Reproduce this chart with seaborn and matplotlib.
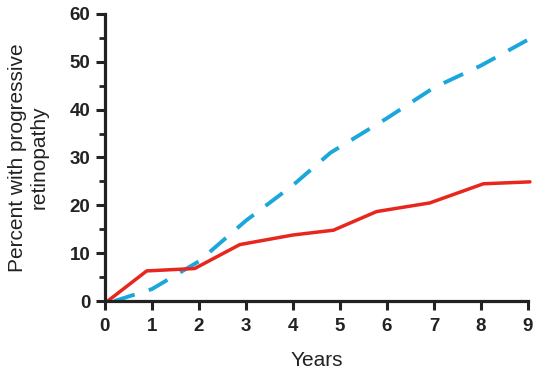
import matplotlib
matplotlib.use("Agg")
import matplotlib.pyplot as plt
from matplotlib.ticker import MultipleLocator
import seaborn as sns
import pandas as pd

# Values
red_years = [0.06, 0.89, 1.91, 2.87, 4.0, 4.86, 5.78, 6.91, 8.05, 9.04]
red_percent = [0.0, 6.3, 6.8, 11.8, 13.8, 14.8, 18.7, 20.5, 24.5, 24.9]

blue_years = [0.2, 1.0, 2.0, 3.0, 4.0, 4.8, 6.0, 7.0, 8.0, 9.0]
blue_percent = [0.0, 2.5, 8.3, 16.8, 24.2, 31.0, 38.2, 44.6, 49.2, 54.6]

RED = "#e8261e"
BLUE = "#1ba7dc"
TEXT = "#222222"

sns.set_style("ticks")
plt.rcParams["font.family"] = ["Liberation Sans", "DejaVu Sans"]

fig = plt.figure(figsize=(5.35, 3.74), dpi=100)
ax = fig.add_axes([0.196, 0.195, 0.791, 0.768])

red_df = pd.DataFrame({"Years": red_years, "Percent": red_percent})
blue_df = pd.DataFrame({"Years": blue_years, "Percent": blue_percent})

sns.lineplot(data=blue_df, x="Years", y="Percent", ax=ax, color=BLUE,
             linewidth=2.8, linestyle=(0, (5.5, 3.8)), clip_on=False)
sns.lineplot(data=red_df, x="Years", y="Percent", ax=ax, color=RED,
             linewidth=2.5, clip_on=False)

ax.set_xlim(0, 9)
ax.set_ylim(0, 60)
ax.xaxis.set_major_locator(MultipleLocator(1))
ax.yaxis.set_major_locator(MultipleLocator(10))
ax.yaxis.set_minor_locator(MultipleLocator(5))

sns.despine(ax=ax)
for side in ["left", "bottom"]:
    ax.spines[side].set_linewidth(2.3)
    ax.spines[side].set_color(TEXT)

ax.tick_params(axis="both", which="major", length=6.5, width=2.2, color=TEXT,
               labelsize=13.5, labelcolor=TEXT)
ax.tick_params(axis="x", which="major", pad=6)
ax.tick_params(axis="y", which="major", pad=4)
ax.tick_params(axis="y", which="minor", length=4, width=2.0, color=TEXT)
for lab in ax.get_xticklabels() + ax.get_yticklabels():
    lab.set_fontweight("bold")

ax.set_xlabel("Years", fontsize=15, color=TEXT, labelpad=11)
ax.set_ylabel("Percent with progressive\nretinopathy", fontsize=15,
              color=TEXT, multialignment="center", labelpad=15)

fig.savefig("out.png", dpi=100)
